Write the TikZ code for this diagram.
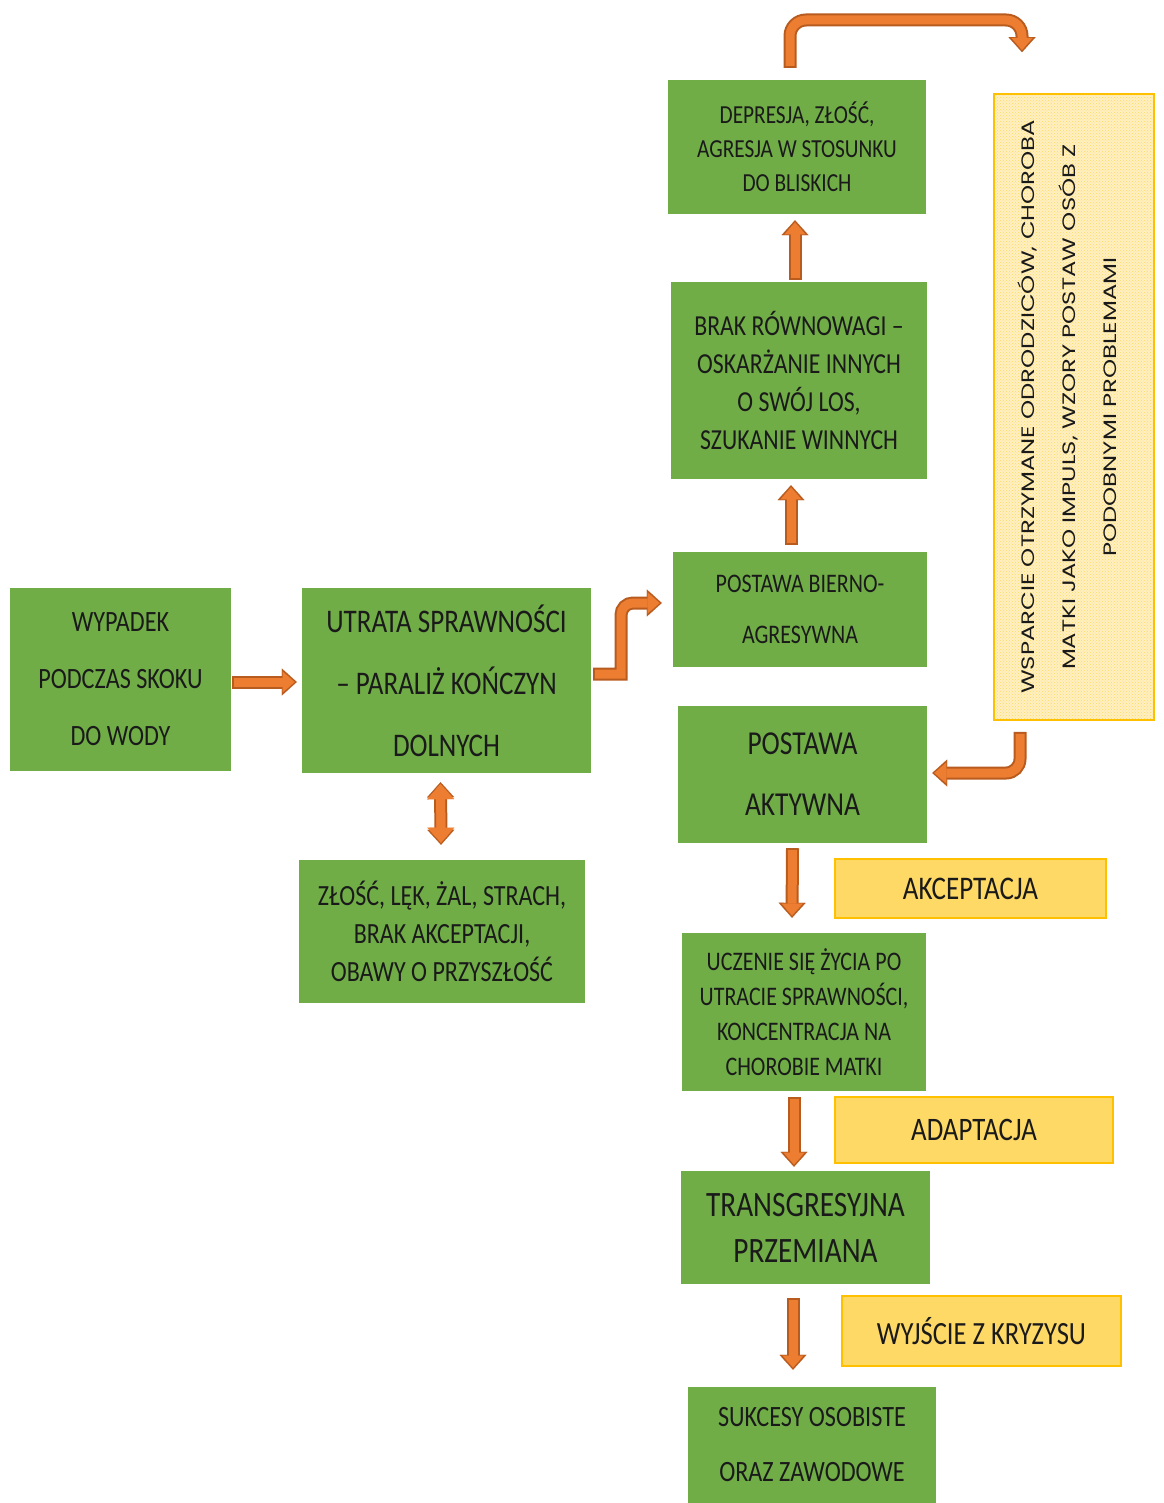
\documentclass[tikz,border=0pt]{standalone}
\usepackage{fontspec}
\setmainfont{Carlito}
\newfontfamily\cf[FakeStretch=0.82]{Carlito}
\newfontfamily\gf[FakeStretch=1.35]{Poppins}
\usetikzlibrary{arrows.meta,calc,patterns}
\definecolor{boxgreen}{HTML}{70AD47}
\definecolor{arrfill}{HTML}{ED7D31}
\definecolor{arredge}{HTML}{B85B1F}
\definecolor{notefill}{HTML}{FFD966}
\definecolor{noteedge}{HTML}{FFC000}
\definecolor{softfill}{HTML}{FFF0C2}
\definecolor{softdot}{HTML}{FFD966}
\definecolor{txt}{HTML}{1A1A1A}

\tikzset{
  gbox/.style={fill=boxgreen, inner sep=0pt, align=center, text=txt},
  ybox/.style={fill=notefill, draw=noteedge, line width=1.6pt, inner sep=0pt, align=center, text=txt},
  tipout/.tip={Triangle[length=15pt,width=27pt,line width=0.1pt]},
  tipin/.tip={Triangle[length=12pt,width=21pt,line width=0.1pt]},
  arrout/.style={draw=arredge, line width=13pt, -tipout},
  arrin/.style={draw=arrfill, line width=9pt, shorten >=2.2pt, shorten <=2pt, -tipin},
}
% a block arrow: dark outline pass, then the orange body
\newcommand\blockarrow[2][]{\draw[arrout,#1] #2; \draw[arrin,#1] #2;}

\begin{document}
\begin{tikzpicture}[x=1pt,y=-1pt]
\useasboundingbox (0,0) rectangle (1163,1503);

% left column
\node[gbox, minimum width=221pt, minimum height=183pt, font=\cf\fontsize{29.5}{57}\selectfont]
  (wyp) at (120.5,679.5) {WYPADEK\\PODCZAS SKOKU\\DO WODY};
\node[gbox, minimum width=289pt, minimum height=185pt, font=\cf\fontsize{33}{62}\selectfont]
  (utr) at (446.5,680.5) {UTRATA SPRAWNOŚCI\\– PARALIŻ KOŃCZYN\\DOLNYCH};
\node[gbox, minimum width=286pt, minimum height=143pt, font=\cf\fontsize{29.3}{38}\selectfont]
  (zlo) at (442,931.5) {ZŁOŚĆ, LĘK, ŻAL, STRACH,\\BRAK AKCEPTACJI,\\OBAWY O PRZYSZŁOŚĆ};

% right column
\node[gbox, minimum width=258pt, minimum height=134pt, font=\cf\fontsize{26}{34}\selectfont]
  (dep) at (797,147) {DEPRESJA, ZŁOŚĆ,\\AGRESJA W STOSUNKU\\DO BLISKICH};
\node[gbox, minimum width=256pt, minimum height=197pt, font=\cf\fontsize{29}{38}\selectfont]
  (brak) at (799,380.5) {BRAK RÓWNOWAGI –\\OSKARŻANIE INNYCH\\O SWÓJ LOS,\\SZUKANIE WINNYCH};
\node[gbox, minimum width=254pt, minimum height=115pt, font=\cf\fontsize{26.8}{51}\selectfont]
  (bie) at (800,609.5) {POSTAWA BIERNO-\\AGRESYWNA};
\node[gbox, minimum width=249pt, minimum height=137pt, font=\cf\fontsize{33.5}{61}\selectfont]
  (akt) at (802.5,774.5) {POSTAWA\\AKTYWNA};
\node[gbox, minimum width=244pt, minimum height=158pt, font=\cf\fontsize{26.8}{35}\selectfont]
  (ucz) at (804,1012) {UCZENIE SIĘ ŻYCIA PO\\UTRACIE SPRAWNOŚCI,\\KONCENTRACJA NA\\CHOROBIE MATKI};
\node[gbox, minimum width=249pt, minimum height=113pt, font=\cf\fontsize{35.7}{46}\selectfont]
  (tra) at (805.5,1227.5) {TRANSGRESYJNA\\PRZEMIANA};
\node[gbox, minimum width=248pt, minimum height=116pt, font=\cf\fontsize{29.5}{55}\selectfont]
  (suk) at (812,1445) {SUKCESY OSOBISTE\\ORAZ ZAWODOWE};

% stage labels
\node[ybox, minimum width=271pt, minimum height=59pt, font=\cf\fontsize{33}{38}\selectfont]
  (akc) at (970.5,888.5) {AKCEPTACJA};
\node[ybox, minimum width=278pt, minimum height=66pt, font=\cf\fontsize{32.8}{38}\selectfont]
  (ada) at (974,1130) {ADAPTACJA};
\node[ybox, minimum width=279pt, minimum height=70pt, font=\cf\fontsize{32.4}{38}\selectfont]
  (wyj) at (981.5,1331) {WYJŚCIE Z KRYZYSU};

% support box with vertical text
\node[draw=noteedge, line width=1.6pt, preaction={fill=softfill},
      pattern=crosshatch dots, pattern color=softdot,
      minimum width=160pt, minimum height=626pt, inner sep=0pt]
  (wsp) at (1074,407) {};
\node[rotate=90, align=center, text=txt, inner sep=0pt, font=\gf\fontsize{18}{41}\selectfont]
  (wspt) at (1067,407) {WSPARCIE OTRZYMANE ODRODZICÓW, CHOROBA\\MATKI JAKO IMPULS, WZORY POSTAW OSÓB Z\\PODOBNYMI PROBLEMAMI};

% connectors
\coordinate (topend) at ($(wsp.north)+(-52,-41)$);
\blockarrow{($(wyp.east)+(1,2.5)$) -- ($(utr.west)+(-5,1.5)$)}
\blockarrow{($(utr.east)+(2,-6.5)$) -- (621,674) [rounded corners=12pt] -- (621,603) -- ($(bie.west)+(-11,-6.5)$)}
\blockarrow{($(bie.north)+(-9,-7)$) -- ($(brak.south)+(-8,6)$)}
\blockarrow{($(brak.north)+(-4,-2)$) -- ($(dep.south)+(-2,6)$)}
\blockarrow[rounded corners=16pt]{($(dep.north)+(-7,-12)$) -- (790,20) -- (1022,20) -- (topend)}
\blockarrow[rounded corners=14pt]{($(wsp.south)+(-54,11)$) -- (1020,773) -- ($(akt.east)+(5,-1.5)$)}
\blockarrow[tipout-tipout]{($(utr.south)+(-6,9)$) -- ($(zlo.north)+(-1,-15)$)}
\draw[arrin, tipin-tipin] ($(utr.south)+(-6,9)$) -- ($(zlo.north)+(-1,-15)$);
\blockarrow{($(akt.south)+(-10,5)$) -- ($(ucz.north)+(-12,-15)$)}
\blockarrow{($(ucz.south)+(-10,6)$) -- ($(tra.north)+(-11.5,-4)$)}
\blockarrow{($(tra.south)+(-12.5,14)$) -- ($(suk.north)+(-19,-17)$)}
\end{tikzpicture}
\end{document}
